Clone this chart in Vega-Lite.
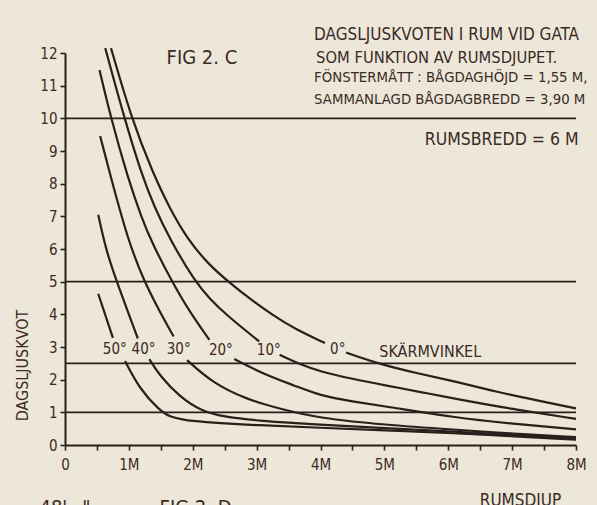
{
  "$schema": "https://vega.github.io/schema/vega-lite/v6.json",
  "width": 511,
  "height": 392,
  "autosize": {"type": "none"},
  "padding": {"left": 65, "top": 53, "right": 21, "bottom": 60},
  "background": "#ece7d8",
  "config": {
    "view": {"stroke": null},
    "font": "Liberation Sans Narrow, DejaVu Sans Condensed, Roboto, sans-serif",
    "axis": {
      "grid": false,
      "domainColor": "#2b1e1b",
      "domainWidth": 2,
      "tickColor": "#2b1e1b",
      "tickWidth": 1.6,
      "tickSize": 5,
      "labelColor": "#3b2a26",
      "labelFont": "Liberation Sans Narrow, DejaVu Sans Condensed, Roboto, sans-serif",
      "labelFontSize": 15,
      "labelFlush": false,
      "labelOverlap": false,
      "labelBound": false,
      "titleFont": "Liberation Sans Narrow, DejaVu Sans Condensed, Roboto, sans-serif",
      "titleColor": "#3b2a26",
      "titleFontWeight": "normal"
    },
    "axisQuantitative": {"labelOverlap": false}
  },
  "datasets": {
    "curves": [
      {"angle": "0°", "seg": "a", "x": 0.72, "y": 12.15},
      {"angle": "0°", "seg": "a", "x": 1.04, "y": 10.0},
      {"angle": "0°", "seg": "a", "x": 1.37, "y": 8.35},
      {"angle": "0°", "seg": "a", "x": 1.65, "y": 7.2},
      {"angle": "0°", "seg": "a", "x": 1.92, "y": 6.3},
      {"angle": "0°", "seg": "a", "x": 2.25, "y": 5.52},
      {"angle": "0°", "seg": "a", "x": 2.57, "y": 4.98},
      {"angle": "0°", "seg": "a", "x": 2.89, "y": 4.48},
      {"angle": "0°", "seg": "a", "x": 3.25, "y": 3.98},
      {"angle": "0°", "seg": "a", "x": 3.6, "y": 3.55},
      {"angle": "0°", "seg": "a", "x": 4.07, "y": 3.12},
      {"angle": "0°", "seg": "b", "x": 4.4, "y": 2.83},
      {"angle": "0°", "seg": "b", "x": 4.92, "y": 2.48},
      {"angle": "0°", "seg": "b", "x": 5.5, "y": 2.2},
      {"angle": "0°", "seg": "b", "x": 6.1, "y": 1.95},
      {"angle": "0°", "seg": "b", "x": 6.75, "y": 1.63},
      {"angle": "0°", "seg": "b", "x": 7.4, "y": 1.36},
      {"angle": "0°", "seg": "b", "x": 8.0, "y": 1.12},
      {"angle": "10°", "seg": "a", "x": 0.63, "y": 12.15},
      {"angle": "10°", "seg": "a", "x": 0.93, "y": 10.0},
      {"angle": "10°", "seg": "a", "x": 1.19, "y": 8.34},
      {"angle": "10°", "seg": "a", "x": 1.4, "y": 7.28},
      {"angle": "10°", "seg": "a", "x": 1.64, "y": 6.31},
      {"angle": "10°", "seg": "a", "x": 2.03, "y": 5.01},
      {"angle": "10°", "seg": "a", "x": 2.27, "y": 4.47},
      {"angle": "10°", "seg": "a", "x": 2.52, "y": 3.99},
      {"angle": "10°", "seg": "a", "x": 3.04, "y": 3.17},
      {"angle": "10°", "seg": "b", "x": 3.36, "y": 2.76},
      {"angle": "10°", "seg": "b", "x": 3.7, "y": 2.45},
      {"angle": "10°", "seg": "b", "x": 3.98, "y": 2.26},
      {"angle": "10°", "seg": "b", "x": 4.5, "y": 2.02},
      {"angle": "10°", "seg": "b", "x": 5.03, "y": 1.82},
      {"angle": "10°", "seg": "b", "x": 5.6, "y": 1.61},
      {"angle": "10°", "seg": "b", "x": 6.1, "y": 1.42},
      {"angle": "10°", "seg": "b", "x": 7.0, "y": 1.1},
      {"angle": "10°", "seg": "b", "x": 8.0, "y": 0.8},
      {"angle": "20°", "seg": "a", "x": 0.54, "y": 11.48},
      {"angle": "20°", "seg": "a", "x": 0.72, "y": 10.0},
      {"angle": "20°", "seg": "a", "x": 0.98, "y": 8.2},
      {"angle": "20°", "seg": "a", "x": 1.2, "y": 6.95},
      {"angle": "20°", "seg": "a", "x": 1.37, "y": 6.15},
      {"angle": "20°", "seg": "a", "x": 1.69, "y": 4.95},
      {"angle": "20°", "seg": "a", "x": 1.95, "y": 4.08},
      {"angle": "20°", "seg": "a", "x": 2.26, "y": 3.22},
      {"angle": "20°", "seg": "b", "x": 2.65, "y": 2.63},
      {"angle": "20°", "seg": "b", "x": 3.1, "y": 2.18},
      {"angle": "20°", "seg": "b", "x": 3.62, "y": 1.8},
      {"angle": "20°", "seg": "b", "x": 3.98, "y": 1.52},
      {"angle": "20°", "seg": "b", "x": 4.5, "y": 1.33},
      {"angle": "20°", "seg": "b", "x": 5.03, "y": 1.18},
      {"angle": "20°", "seg": "b", "x": 6.1, "y": 0.84},
      {"angle": "20°", "seg": "b", "x": 7.0, "y": 0.65},
      {"angle": "20°", "seg": "b", "x": 8.0, "y": 0.48},
      {"angle": "30°", "seg": "a", "x": 0.55, "y": 9.46},
      {"angle": "30°", "seg": "a", "x": 0.7, "y": 8.33},
      {"angle": "30°", "seg": "a", "x": 0.98, "y": 6.3},
      {"angle": "30°", "seg": "a", "x": 1.24, "y": 5.0},
      {"angle": "30°", "seg": "a", "x": 1.48, "y": 4.1},
      {"angle": "30°", "seg": "a", "x": 1.7, "y": 3.32},
      {"angle": "30°", "seg": "b", "x": 1.91, "y": 2.6},
      {"angle": "30°", "seg": "b", "x": 2.31, "y": 1.9},
      {"angle": "30°", "seg": "b", "x": 2.84, "y": 1.4},
      {"angle": "30°", "seg": "b", "x": 3.36, "y": 1.11},
      {"angle": "30°", "seg": "b", "x": 3.98, "y": 0.82},
      {"angle": "30°", "seg": "b", "x": 5.0, "y": 0.62},
      {"angle": "30°", "seg": "b", "x": 6.1, "y": 0.47},
      {"angle": "30°", "seg": "b", "x": 7.0, "y": 0.35},
      {"angle": "30°", "seg": "b", "x": 8.0, "y": 0.24},
      {"angle": "40°", "seg": "a", "x": 0.52, "y": 7.05},
      {"angle": "40°", "seg": "a", "x": 0.64, "y": 5.98},
      {"angle": "40°", "seg": "a", "x": 0.81, "y": 5.0},
      {"angle": "40°", "seg": "a", "x": 0.98, "y": 4.1},
      {"angle": "40°", "seg": "a", "x": 1.14, "y": 3.26},
      {"angle": "40°", "seg": "b", "x": 1.32, "y": 2.63},
      {"angle": "40°", "seg": "b", "x": 1.48, "y": 2.13},
      {"angle": "40°", "seg": "b", "x": 1.79, "y": 1.48},
      {"angle": "40°", "seg": "b", "x": 2.15, "y": 1.02},
      {"angle": "40°", "seg": "b", "x": 2.5, "y": 0.86},
      {"angle": "40°", "seg": "b", "x": 3.04, "y": 0.74},
      {"angle": "40°", "seg": "b", "x": 3.98, "y": 0.62},
      {"angle": "40°", "seg": "b", "x": 5.0, "y": 0.52},
      {"angle": "40°", "seg": "b", "x": 6.1, "y": 0.41},
      {"angle": "40°", "seg": "b", "x": 7.0, "y": 0.31},
      {"angle": "40°", "seg": "b", "x": 8.0, "y": 0.2},
      {"angle": "50°", "seg": "a", "x": 0.52, "y": 4.63},
      {"angle": "50°", "seg": "a", "x": 0.75, "y": 3.28},
      {"angle": "50°", "seg": "b", "x": 0.94, "y": 2.57},
      {"angle": "50°", "seg": "b", "x": 1.17, "y": 1.71},
      {"angle": "50°", "seg": "b", "x": 1.48, "y": 1.06},
      {"angle": "50°", "seg": "b", "x": 1.64, "y": 0.86},
      {"angle": "50°", "seg": "b", "x": 1.85, "y": 0.77},
      {"angle": "50°", "seg": "b", "x": 2.1, "y": 0.71},
      {"angle": "50°", "seg": "b", "x": 3.04, "y": 0.6},
      {"angle": "50°", "seg": "b", "x": 3.98, "y": 0.53},
      {"angle": "50°", "seg": "b", "x": 5.0, "y": 0.45},
      {"angle": "50°", "seg": "b", "x": 6.1, "y": 0.36},
      {"angle": "50°", "seg": "b", "x": 7.0, "y": 0.27},
      {"angle": "50°", "seg": "b", "x": 8.0, "y": 0.16}
    ],
    "refs": [
      {"y": 1, "x": 0, "x2": 8},
      {"y": 2.5, "x": 0, "x2": 8},
      {"y": 5, "x": 0, "x2": 8},
      {"y": 10, "x": 0, "x2": 8}
    ],
    "labels": [
      {"text": "50°", "x": 0.78, "y": 2.93},
      {"text": "40°", "x": 1.23, "y": 2.93},
      {"text": "30°", "x": 1.78, "y": 2.94},
      {"text": "20°", "x": 2.44, "y": 2.9},
      {"text": "10°", "x": 3.19, "y": 2.91},
      {"text": "0°", "x": 4.27, "y": 2.94}
    ],
    "head1": [{"text": "DAGSLJUSKVOTEN I RUM VID GATA", "x": 3.9, "y": 12.56}],
    "head2": [{"text": "SOM FUNKTION AV RUMSDJUPET.", "x": 3.93, "y": 11.85}],
    "head34": [
      {"text": "FÖNSTERMÅTT : BÅGDAGHÖJD = 1,55 M,", "x": 3.9, "y": 11.25},
      {"text": "SAMMANLAGD BÅGDAGBREDD = 3,90 M", "x": 3.9, "y": 10.55}
    ],
    "width_note": [{"text": "RUMSBREDD = 6 M", "x": 8.04, "y": 9.35}],
    "fig": [{"text": "FIG 2. C", "x": 1.59, "y": 11.86}],
    "screen": [{"text": "SKÄRMVINKEL", "x": 4.92, "y": 2.85}],
    "below": [
      {"text": "48'", "x": -0.4, "y": -2.1},
      {"text": "\"", "x": 0.27, "y": -2.1},
      {"text": "FIG 2. D", "x": 1.48, "y": -2.1}
    ]
  },
  "encoding": {
    "x": {
      "field": "x", "type": "quantitative",
      "scale": {"domain": [0, 8], "nice": false, "zero": false},
      "axis": {
        "title": "RUMSDJUP",
        "values": [0, 0.5, 1, 1.5, 2, 2.5, 3, 3.5, 4, 4.5, 5, 5.5, 6, 6.5, 7, 7.5, 8],
        "labelExpr": "datum.value == 0 ? '0' : (datum.value % 1 == 0 ? datum.value + 'M' : '')",
        "labelOverlap": false,
        "labelPadding": 7,
        "labelFontSize": 15,
        "titleFontSize": 17,
        "titleX": 455,
        "titleY": 60,
        "titleAlign": "center",
        "titleBaseline": "alphabetic"
      }
    },
    "y": {
      "field": "y", "type": "quantitative",
      "scale": {"domain": [0, 12], "nice": false},
      "axis": {
        "title": "DAGSLJUSKVOT",
        "values": [0, 1, 2, 3, 4, 5, 6, 7, 8, 9, 10, 11, 12],
        "labelExpr": "datum.value + ''",
        "labelOverlap": false,
        "labelPadding": 3,
        "labelFontSize": 15,
        "titleFontSize": 16,
        "titleX": -43,
        "titleY": 312,
        "titleAlign": "center",
        "titleBaseline": "middle"
      }
    }
  },
  "layer": [
    {
      "data": {"name": "curves"},
      "mark": {"type": "line", "color": "#2b1e1b", "strokeWidth": 2.2, "interpolate": "basis"},
      "encoding": {
        "detail": [{"field": "angle"}, {"field": "seg"}]
      }
    },
    {
      "data": {"name": "refs"},
      "mark": {"type": "rule", "color": "#2b1e1b", "strokeWidth": 1.6},
      "encoding": {
        "x2": {"field": "x2"}
      }
    },
    {
      "data": {"name": "labels"},
      "mark": {"type": "text", "color": "#3b2a26", "fontSize": 15, "align": "center", "baseline": "middle"},
      "encoding": {"text": {"field": "text"}}
    },
    {
      "data": {"name": "screen"},
      "mark": {"type": "text", "color": "#3b2a26", "fontSize": 16, "align": "left", "baseline": "middle"},
      "encoding": {"text": {"field": "text"}}
    },
    {
      "data": {"name": "head1"},
      "mark": {"type": "text", "color": "#3b2a26", "fontSize": 17, "align": "left", "baseline": "middle"},
      "encoding": {"text": {"field": "text"}}
    },
    {
      "data": {"name": "head2"},
      "mark": {"type": "text", "color": "#3b2a26", "fontSize": 16.4, "align": "left", "baseline": "middle"},
      "encoding": {"text": {"field": "text"}}
    },
    {
      "data": {"name": "head34"},
      "mark": {"type": "text", "color": "#3b2a26", "fontSize": 14.8, "align": "left", "baseline": "middle"},
      "encoding": {"text": {"field": "text"}}
    },
    {
      "data": {"name": "width_note"},
      "mark": {"type": "text", "color": "#3b2a26", "fontSize": 17.5, "align": "right", "baseline": "middle"},
      "encoding": {"text": {"field": "text"}}
    },
    {
      "data": {"name": "fig"},
      "mark": {"type": "text", "color": "#3b2a26", "fontSize": 20, "align": "left", "baseline": "middle"},
      "encoding": {"text": {"field": "text"}}
    },
    {
      "data": {"name": "below"},
      "mark": {"type": "text", "color": "#3b2a26", "fontSize": 20, "align": "left", "baseline": "alphabetic"},
      "encoding": {"text": {"field": "text"}}
    }
  ]
}
